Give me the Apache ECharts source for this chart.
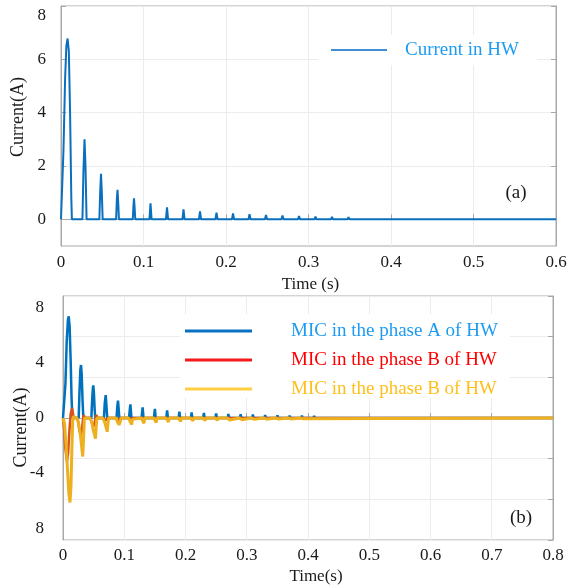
<!DOCTYPE html>
<html>
<head>
<meta charset="utf-8">
<script src="https://cdn.jsdelivr.net/npm/echarts@6/dist/echarts.min.js"></script>
<style>
html,body{margin:0;padding:0;background:#fff;}
#chart{width:571px;height:588px;}
</style>
</head>
<body>
<div id="chart"></div>
<script>
// ---------- DATA ----------
const topXTicks = [0, 0.1, 0.2, 0.3, 0.4, 0.5, 0.6];
const topYTicks = [0, 2, 4, 6, 8];
const bottomXTicks = [0, 0.1, 0.2, 0.3, 0.4, 0.5, 0.6, 0.7, 0.8];
const bottomYTicks = [-8, -4, 0, 4, 8];
const bottomYTickText = ['8', '-4', '0', '4', '8'];

const topLegend = 'Current in HW';
const bottomLegend = ['MIC in the phase A of HW', 'MIC in the phase B of HW', 'MIC in the phase B of HW'];

// (time s, current A) — current in HW
const hwCurrent = [
[0,0],[0.001,0],[0.003,2.6],[0.005,5.3],[0.0065,6.5],[0.008,6.78],[0.0095,6.3],[0.011,4.0],[0.0125,0.8],[0.0132,0],
[0.026,0],[0.0272,1.8],[0.0285,3.0],[0.0297,2.0],[0.031,0],
[0.0465,0],[0.0476,1.1],[0.0485,1.71],[0.0495,1.0],[0.0505,0],
[0.0668,0],[0.0677,0.75],[0.0685,1.11],[0.0694,0.6],[0.0702,0],
[0.0870,0],[0.0878,0.5],[0.0885,0.79],[0.0893,0.4],[0.0900,0],
[0.1072,0],[0.1085,0.6],[0.1098,0],
[0.1272,0],[0.1285,0.45],[0.1298,0],
[0.1472,0],[0.1485,0.37],[0.1498,0],
[0.1672,0],[0.1685,0.30],[0.1698,0],
[0.1872,0],[0.1885,0.25],[0.1898,0],
[0.2072,0],[0.2085,0.22],[0.2098,0],
[0.2272,0],[0.2285,0.19],[0.2298,0],
[0.2472,0],[0.2485,0.16],[0.2498,0],
[0.2672,0],[0.2685,0.14],[0.2698,0],
[0.2872,0],[0.2885,0.12],[0.2898,0],
[0.3072,0],[0.3085,0.10],[0.3098,0],
[0.3272,0],[0.3285,0.09],[0.3298,0],
[0.3472,0],[0.3485,0.08],[0.3498,0],
[0.3672,0],[0.3685,0.07],[0.3698,0],
[0.3872,0],[0.3885,0.06],[0.3898,0],
[0.4072,0],[0.4085,0.05],[0.4098,0],
[0.4272,0],[0.4285,0.045],[0.4298,0],
[0.4472,0],[0.4485,0.04],[0.4498,0],
[0.4672,0],[0.4685,0.035],[0.4698,0],
[0.4872,0],[0.4885,0.03],[0.4898,0],
[0.5072,0],[0.5085,0.03],[0.5098,0],
[0.5272,0],[0.5285,0.025],[0.5298,0],
[0.5472,0],[0.5485,0.025],[0.5498,0],
[0.5672,0],[0.5685,0.02],[0.5698,0],
[0.5872,0],[0.5885,0.02],[0.5898,0],
[0.6,0]
];

// phase A (blue)
const phaseA = [
[0,0],[0.002,0],[0.004,2.5],[0.006,5.5],[0.008,7.1],[0.0093,7.39],[0.0108,6.7],[0.0125,4.2],[0.014,1.4],[0.0153,0],
[0.0256,0],[0.027,2.0],[0.0283,3.5],[0.0294,3.85],[0.0305,3.2],[0.032,1.2],[0.0332,0],
[0.0463,0],[0.0478,1.5],[0.0488,2.2],[0.0495,2.37],[0.0505,1.8],[0.0517,0.6],[0.0527,0],
[0.0668,0],[0.0682,1.1],[0.0697,1.67],[0.0708,1.0],[0.0722,0],
[0.0873,0],[0.0886,0.8],[0.0898,1.26],[0.0908,0.7],[0.0920,0],
[0.1078,0],[0.109,0.6],[0.11,0.99],[0.1109,0.5],[0.1118,0],
[0.1282,0],[0.1300,0.78],[0.1315,0],
[0.1484,0],[0.1500,0.67],[0.1514,0],
[0.1686,0],[0.1700,0.56],[0.1713,0],
[0.1887,0],[0.1900,0.46],[0.1912,0],
[0.2088,0],[0.2100,0.40],[0.2112,0],
[0.2288,0],[0.2300,0.36],[0.2312,0],
[0.2488,0],[0.2500,0.33],[0.2512,0],
[0.2688,0],[0.2700,0.30],[0.2712,0],
[0.2888,0],[0.2900,0.27],[0.2912,0],
[0.3088,0],[0.3100,0.25],[0.3112,0],
[0.3288,0],[0.3300,0.22],[0.3312,0],
[0.3488,0],[0.3500,0.20],[0.3512,0],
[0.3688,0],[0.3700,0.18],[0.3712,0],
[0.3888,0],[0.3900,0.17],[0.3912,0],
[0.4088,0],[0.4100,0.15],[0.4112,0],
[0.4288,0],[0.4300,0.14],[0.4312,0],
[0.4488,0],[0.4500,0.13],[0.4512,0],
[0.4688,0],[0.4700,0.12],[0.4712,0],
[0.4888,0],[0.4900,0.11],[0.4912,0],
[0.5088,0],[0.5100,0.10],[0.5112,0],
[0.5288,0],[0.5300,0.09],[0.5312,0],
[0.5488,0],[0.5500,0.085],[0.5512,0],
[0.5688,0],[0.5700,0.08],[0.5712,0],
[0.5888,0],[0.5900,0.07],[0.5912,0],
[0.6088,0],[0.6100,0.065],[0.6112,0],
[0.6288,0],[0.6300,0.06],[0.6312,0],
[0.6488,0],[0.6500,0.055],[0.6512,0],
[0.6688,0],[0.6700,0.05],[0.6712,0],
[0.6888,0],[0.6900,0.045],[0.6912,0],
[0.7088,0],[0.7100,0.04],[0.7112,0],
[0.7288,0],[0.7300,0.035],[0.7312,0],
[0.7488,0],[0.7500,0.03],[0.7512,0],
[0.7688,0],[0.7700,0.03],[0.7712,0],
[0.7888,0],[0.7900,0.025],[0.7912,0],
[0.8,0]
];

// phase B (red/orange)
const phaseB = [
[0,0],[0.002,-0.9],[0.004,-2.3],[0.0065,-3.15],[0.0085,-2.5],[0.0105,-0.9],[0.0125,0.3],[0.0148,0.73],[0.0163,0.3],[0.0178,0],
[0.0238,0],[0.0265,-0.8],[0.0292,-1.36],[0.0315,-0.6],[0.0335,0.2],[0.0352,0.34],[0.0368,0],
[0.0448,0],[0.047,-0.35],[0.0502,-0.62],[0.0528,-0.1],[0.0545,0.22],[0.0562,0],
[0.0655,0],[0.068,-0.25],[0.0705,-0.38],[0.0728,0],[0.0742,0.12],[0.0756,0],
[0.086,0],[0.089,-0.2],[0.091,-0.27],[0.0932,0],[0.0942,0.06],[0.0955,0],
[0.108,0],[0.111,-0.2],[0.113,0],
[0.8,0]
];

// phase C (yellow)
const phaseC = [
[0,0],[0.0025,-0.4],[0.005,-1.9],[0.0075,-3.9],[0.0095,-5.5],[0.0114,-6.14],[0.013,-5.0],[0.0145,-2.3],[0.0158,-0.3],[0.0165,0.1],[0.0175,0],
[0.0225,0],[0.025,-0.3],[0.0275,-0.9],[0.03,-1.9],[0.0322,-2.8],[0.0335,-1.6],[0.0347,-0.2],[0.0355,0],
[0.044,0],[0.047,-0.3],[0.049,-0.8],[0.0505,-1.05],[0.0515,-0.95],[0.053,-1.5],[0.0543,-0.6],[0.0553,0],
[0.065,0],[0.068,-0.3],[0.0705,-0.7],[0.0722,-1.0],[0.0737,-0.3],[0.0748,0],
[0.0865,0],[0.089,-0.3],[0.0915,-0.5],[0.0928,-0.63],[0.094,-0.2],[0.095,0],
[0.107,0],[0.1095,-0.25],[0.1122,-0.48],[0.1133,-0.1],[0.1143,0],
[0.128,0],[0.1322,-0.38],[0.1335,0],
[0.148,0],[0.1522,-0.32],[0.1535,0],
[0.168,0],[0.1722,-0.28],[0.1735,0],
[0.188,0],[0.1922,-0.24],[0.1935,0],
[0.208,0],[0.2122,-0.2],[0.2135,0],
[0.228,0],[0.2322,-0.18],[0.2335,0],
[0.248,0],[0.2522,-0.16],[0.2535,0],
[0.268,0],[0.2722,-0.14],[0.2735,0],
[0.288,0],[0.2922,-0.12],[0.2935,0],
[0.308,0],[0.3122,-0.1],[0.3135,0],
[0.328,0],[0.3322,-0.09],[0.3335,0],
[0.348,0],[0.3522,-0.08],[0.3535,0],
[0.368,0],[0.3722,-0.07],[0.3735,0],
[0.388,0],[0.3922,-0.06],[0.3935,0],
[0.8,0]
];

// ---------- STYLE ----------
const FONT = "'Liberation Serif','Times New Roman',serif";
const AXIS_C = '#a8a8a8';
const GRID_C = '#ececec';
const TXT_C = '#1a1a1a';

const chart = echarts.init(document.getElementById('chart'), null, {renderer: 'canvas'});

function xFmt(v) { return v === 0 ? '0' : (Math.round(v * 10) / 10).toFixed(1); }

const option = {
  animation: false,
  backgroundColor: '#fff',
  grid: [
    {left: 61, right: 15, top: 6, bottom: 342, show: true, borderColor: AXIS_C, borderWidth: 1, containLabel: false, outerBoundsMode: 'none'},
    {left: 63, right: 18, top: 296, bottom: 48, show: true, borderColor: AXIS_C, borderWidth: 1, containLabel: false, outerBoundsMode: 'none'}
  ],
  xAxis: [
    {
      type: 'value', gridIndex: 0, min: 0, max: 0.6, interval: 0.1,
      name: 'Time (s)', nameLocation: 'middle', nameGap: 30, nameMoveOverlap: false,
      nameTextStyle: {fontFamily: FONT, fontSize: 17, color: TXT_C, padding: [0, 0, 0, 4]},
      axisLine: {lineStyle: {color: AXIS_C}},
      axisTick: {inside: true, length: 5, lineStyle: {color: AXIS_C}},
      axisLabel: {fontFamily: FONT, fontSize: 17, color: TXT_C, margin: 8, formatter: xFmt},
      splitLine: {show: true, lineStyle: {color: GRID_C}}
    },
    {
      type: 'value', gridIndex: 1, min: 0, max: 0.8, interval: 0.1,
      name: 'Time(s)', nameLocation: 'middle', nameGap: 28, nameMoveOverlap: false,
      nameTextStyle: {fontFamily: FONT, fontSize: 17, color: TXT_C, padding: [0, 0, 0, 16]},
      axisLine: {lineStyle: {color: AXIS_C}},
      axisTick: {inside: true, length: 5, lineStyle: {color: AXIS_C}},
      axisLabel: {fontFamily: FONT, fontSize: 17, color: TXT_C, margin: 7, formatter: xFmt},
      splitLine: {show: true, lineStyle: {color: GRID_C}}
    }
  ],
  yAxis: [
    {
      type: 'value', gridIndex: 0, min: -1, max: 8,
      name: 'Current(A)', nameLocation: 'middle', nameGap: 34, nameMoveOverlap: false,
      nameTextStyle: {fontFamily: FONT, fontSize: 18, color: TXT_C, padding: [0, 0, 0, 18]},
      axisLine: {show: true, lineStyle: {color: AXIS_C}},
      axisTick: {show: true, inside: true, length: 5, customValues: topYTicks, lineStyle: {color: AXIS_C}},
      axisLabel: {
        fontFamily: FONT, fontSize: 17, color: TXT_C, margin: 15, customValues: topYTicks,
        formatter: v => v === 8 ? '{t|8}' : String(v),
        rich: {t: {fontFamily: FONT, fontSize: 17, color: TXT_C, padding: [20, 0, 0, 0]}}
      },
      splitLine: {show: true, lineStyle: {color: GRID_C}}
    },
    {
      type: 'value', gridIndex: 0, min: -1, max: 8, position: 'right',
      axisLine: {show: true, lineStyle: {color: AXIS_C}},
      axisTick: {show: true, inside: true, length: 5, customValues: topYTicks, lineStyle: {color: AXIS_C}},
      axisLabel: {show: false},
      splitLine: {show: false}
    },
    {
      type: 'value', gridIndex: 1, min: -8.87, max: 8.87,
      name: 'Current(A)', nameLocation: 'middle', nameGap: 33, nameMoveOverlap: false,
      nameTextStyle: {fontFamily: FONT, fontSize: 18, color: TXT_C, padding: [0, 19, 0, 0]},
      axisLine: {show: true, lineStyle: {color: AXIS_C}},
      axisTick: {show: false, customValues: bottomYTicks},
      axisLabel: {
        fontFamily: FONT, fontSize: 17, color: TXT_C, margin: 19, customValues: bottomYTicks,
        formatter: v => bottomYTickText[bottomYTicks.indexOf(Math.round(v))]
      },
      splitLine: {show: false}
    },
    {
      type: 'value', gridIndex: 1, min: -3, max: 3, interval: 1, position: 'right',
      axisLine: {show: true, lineStyle: {color: AXIS_C}},
      axisTick: {show: true, inside: true, length: 5, lineStyle: {color: AXIS_C}},
      axisLabel: {show: false},
      splitLine: {show: true, lineStyle: {color: GRID_C}}
    }
  ],
  graphic: [
    {type: 'rect', z: 1, shape: {x: 318, y: 35, width: 219, height: 30}, style: {fill: '#fff'}},
    {type: 'line', z: 10, shape: {x1: 331, y1: 50, x2: 387, y2: 50}, style: {stroke: '#3f8fd2', lineWidth: 2}},
    {type: 'text', z: 10, x: 405, y: 50, style: {text: topLegend, fontFamily: FONT, fontSize: 19, fill: '#1e9bf0', verticalAlign: 'middle'}},
    {type: 'text', z: 10, x: 516, y: 193, style: {text: '(a)', fontFamily: FONT, fontSize: 19, fill: TXT_C, align: 'center', verticalAlign: 'middle'}},

    {type: 'rect', z: 1, shape: {x: 180, y: 314, width: 330, height: 84}, style: {fill: '#fff'}},
    {type: 'line', z: 10, shape: {x1: 185, y1: 331, x2: 252, y2: 331}, style: {stroke: '#0a70c0', lineWidth: 3}},
    {type: 'line', z: 10, shape: {x1: 185, y1: 360, x2: 252, y2: 360}, style: {stroke: '#f51a1a', lineWidth: 3}},
    {type: 'line', z: 10, shape: {x1: 185, y1: 389, x2: 252, y2: 389}, style: {stroke: '#ffce45', lineWidth: 3}},
    {type: 'text', z: 10, x: 291, y: 331, style: {text: bottomLegend[0], fontFamily: FONT, fontSize: 19, fill: '#1e9bf0', verticalAlign: 'middle'}},
    {type: 'text', z: 10, x: 291, y: 360, style: {text: bottomLegend[1], fontFamily: FONT, fontSize: 19, fill: '#ff0000', verticalAlign: 'middle'}},
    {type: 'text', z: 10, x: 291, y: 389, style: {text: bottomLegend[2], fontFamily: FONT, fontSize: 19, fill: '#ffbe1a', verticalAlign: 'middle'}},
    {type: 'text', z: 10, x: 521, y: 518, style: {text: '(b)', fontFamily: FONT, fontSize: 19, fill: TXT_C, align: 'center', verticalAlign: 'middle'}}
  ],
  series: [
    {name: topLegend, type: 'line', xAxisIndex: 0, yAxisIndex: 0, data: hwCurrent, showSymbol: false, symbol: 'none',
     lineStyle: {color: '#0a6fbd', width: 2}, itemStyle: {color: '#0a6fbd'}},
    {name: bottomLegend[0], type: 'line', xAxisIndex: 1, yAxisIndex: 2, data: phaseA, showSymbol: false, symbol: 'none',
     lineStyle: {color: '#0072BD', width: 2.5}, itemStyle: {color: '#0072BD'}},
    {name: 'phaseB', type: 'line', xAxisIndex: 1, yAxisIndex: 2, data: phaseB, showSymbol: false, symbol: 'none',
     lineStyle: {color: '#D95319', width: 2.5}, itemStyle: {color: '#D95319'}},
    {name: 'phaseC', type: 'line', xAxisIndex: 1, yAxisIndex: 2, data: phaseC, showSymbol: false, symbol: 'none',
     lineStyle: {color: '#EDB120', width: 3}, itemStyle: {color: '#EDB120'}}
  ]
};
chart.setOption(option);
</script>
</body>
</html>
